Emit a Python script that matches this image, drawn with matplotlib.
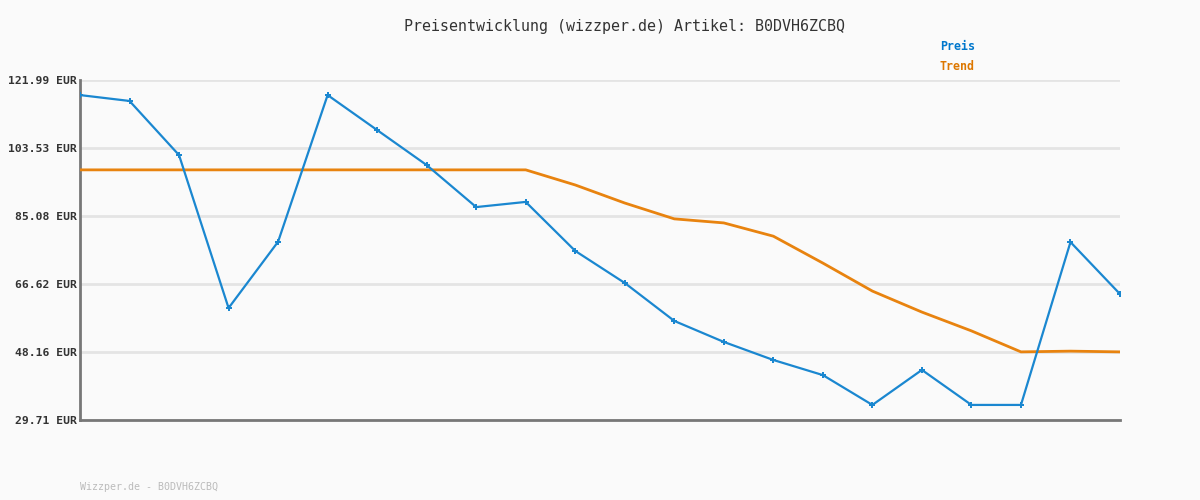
import matplotlib.pyplot as plt

# Price history
preis = [117.9, 116.3, 101.6, 60.1, 78.1, 117.9, 108.4, 98.9, 87.5, 88.9, 75.6,
         66.9, 56.6, 50.9, 46.0, 41.9, 33.8, 43.3, 33.8, 33.8, 78.0, 63.9]
trend = [97.6, 97.6, 97.6, 97.6, 97.6, 97.6, 97.6, 97.6, 97.6, 97.6, 93.5,
         88.6, 84.3, 83.2, 79.6, 72.3, 64.7, 59.0, 53.9, 48.2, 48.4, 48.2]
yticks = [29.71, 48.16, 66.62, 85.08, 103.53, 121.99]
ytick_labels = ["%.2f EUR" % v for v in yticks]

bg = "#fafafa"
mono = "DejaVu Sans Mono"

fig = plt.figure(figsize=(12, 5), dpi=100, facecolor=bg)
ax = fig.add_axes([80/1200, 80/500, 1040/1200, 340/500], facecolor=bg)

x = list(range(len(preis)))
ax.plot(x, trend, color="#e8830f", lw=2, zorder=3)
ax.plot(x, preis, color="#1a87d0", lw=1.6, marker="P", ms=4, mew=0, zorder=4)

ax.set_xlim(0, len(preis) - 1)
ax.set_ylim(yticks[0], yticks[-1])
ax.set_yticks(yticks)
ax.set_yticklabels(ytick_labels, family=mono, fontsize=8.2, fontweight="bold", color="#333333")
ax.set_xticks([])
ax.tick_params(axis="y", length=0, pad=2)
ax.grid(axis="y", color="#e4e4e4", lw=2, zorder=0)
for s in ["top", "right"]:
    ax.spines[s].set_visible(False)
for s in ["left", "bottom"]:
    ax.spines[s].set_color("#777777")
    ax.spines[s].set_linewidth(2)

fig.text(624/1200, 1 - 27/500, "Preisentwicklung (wizzper.de) Artikel: B0DVH6ZCBQ",
         family=mono, fontsize=10.8, color="#333333", ha="center", va="center")
fig.text(940/1200, 1 - 47/500, "Preis", family=mono, fontsize=8.4,
         fontweight="bold", color="#0077cc", ha="left", va="center")
fig.text(940/1200, 1 - 67/500, "Trend", family=mono, fontsize=8.4,
         fontweight="bold", color="#dd7700", ha="left", va="center")
fig.text(80/1200, 1 - 487/500, "Wizzper.de - B0DVH6ZCBQ", family=mono,
         fontsize=7.2, color="#bbbbbb", ha="left", va="center")

fig.savefig("out.png", dpi=100, facecolor=bg)
